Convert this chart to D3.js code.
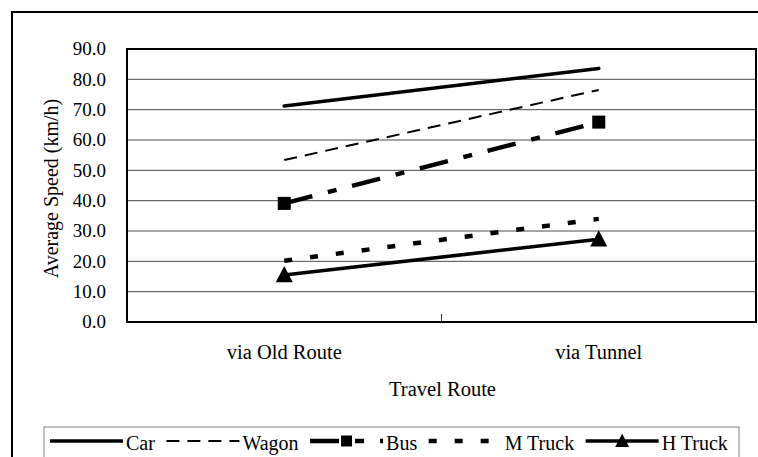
<!DOCTYPE html>
<html>
<head>
<meta charset="utf-8">
<script src="https://cdn.jsdelivr.net/npm/d3@7"></script>
<style>
  html, body { margin: 0; padding: 0; background: #fff; }
  svg { display: block; }
</style>
</head>
<body>
<svg id="chart" width="758" height="457"></svg>
<script>
// Travel routes on the category axis
const routes = ["via Old Route", "via Tunnel"];

// Average speed (km/h) per vehicle class, one value per route
const vehicles = ["Car", "Wagon", "Bus", "M Truck", "H Truck"];
const carSpeed    = [71.2, 83.6];
const wagonSpeed  = [53.4, 76.5];
const busSpeed    = [39.1, 65.9];
const mTruckSpeed = [20.2, 34.0];
const hTruckSpeed = [15.5, 27.3];

// Value-axis ticks
const yTicks = [0, 10, 20, 30, 40, 50, 60, 70, 80, 90];

const seriesValues = [carSpeed, wagonSpeed, busSpeed, mTruckSpeed, hTruckSpeed];

const FONT = "'Liberation Serif', 'Times New Roman', serif";

// Line style for each vehicle class
const styles = {
  "Car":     { width: 3.6, dash: null,          marker: null },
  "Wagon":   { width: 2,   dash: "13,8",        marker: null },
  "Bus":     { width: 4.5, dash: "29,16,9,16",  marker: "square" },
  "M Truck": { width: 4.5, dash: "8,18",        marker: null },
  "H Truck": { width: 3.6, dash: null,          marker: "triangle" }
};

const svg = d3.select("#chart");
const plot = { left: 127, right: 756, top: 49, bottom: 322 };

// Outer chart frame (runs past the right and bottom edges)
svg.append("rect")
  .attr("x", 12).attr("y", 12)
  .attr("width", 800).attr("height", 500)
  .attr("fill", "none").attr("stroke", "#000").attr("stroke-width", 2);

const x = d3.scaleBand().domain(routes).range([plot.left, plot.right]);
const y = d3.scaleLinear().domain([0, 90]).range([plot.bottom, plot.top]);
const cx = r => x(r) + x.bandwidth() / 2;

// Horizontal gridlines
svg.append("g")
  .selectAll("line")
  .data(yTicks.filter(t => t > 0 && t < 90))
  .join("line")
  .attr("x1", plot.left).attr("x2", plot.right)
  .attr("y1", d => y(d)).attr("y2", d => y(d))
  .attr("stroke", "#4a4a4a").attr("stroke-width", 1);

// Y axis labels
const yAxis = d3.axisLeft(y)
  .tickValues(yTicks)
  .tickFormat(d3.format(".1f"))
  .tickSize(0)
  .tickPadding(21);
const gy = svg.append("g").attr("transform", `translate(${plot.left},0)`).call(yAxis);
gy.select(".domain").remove();
gy.selectAll("text")
  .style("font-family", FONT)
  .style("font-size", "19px")
  .attr("fill", "#000")
  .attr("dy", "0.3em");

// X axis labels and the inner tick between categories
const xAxis = d3.axisBottom(x).tickSize(0).tickPadding(0);
const gx = svg.append("g").attr("transform", `translate(0,${plot.bottom})`).call(xAxis);
gx.select(".domain").remove();
gx.selectAll("text")
  .style("font-family", FONT)
  .style("font-size", "20.5px")
  .attr("fill", "#000")
  .attr("dy", null)
  .attr("y", 37);

svg.append("line")
  .attr("x1", x(routes[1])).attr("x2", x(routes[1]))
  .attr("y1", plot.bottom).attr("y2", plot.bottom - 8)
  .attr("stroke", "#333").attr("stroke-width", 1);

// Plot frame
svg.append("rect")
  .attr("x", plot.left).attr("y", plot.top)
  .attr("width", plot.right - plot.left).attr("height", plot.bottom - plot.top)
  .attr("fill", "none").attr("stroke", "#000").attr("stroke-width", 2);

// Axis titles
svg.append("text")
  .attr("x", (plot.left + plot.right) / 2 + 1).attr("y", 396)
  .attr("text-anchor", "middle")
  .style("font-family", FONT).style("font-size", "20.5px")
  .text("Travel Route");

svg.append("text")
  .attr("transform", `translate(58,${(plot.top + plot.bottom) / 2 + 3}) rotate(-90)`)
  .attr("text-anchor", "middle")
  .style("font-family", FONT).style("font-size", "20px")
  .text("Average Speed (km/h)");

// Marker drawing helper
function drawMarker(g, type, px, py, size) {
  if (type === "square") {
    g.append("rect")
      .attr("x", px - size / 2).attr("y", py - size / 2)
      .attr("width", size).attr("height", size)
      .attr("fill", "#000");
  } else if (type === "triangle") {
    const h = size * 0.95;
    g.append("path")
      .attr("d", `M${px},${py - h * 0.55} L${px + size / 2},${py + h * 0.45} L${px - size / 2},${py + h * 0.45} Z`)
      .attr("fill", "#000");
  }
}

// Series lines
const line = d3.line().x((d, i) => cx(routes[i])).y(d => y(d));
const series = svg.append("g");
vehicles.forEach((v, k) => {
  const s = styles[v];
  const vals = seriesValues[k];
  series.append("path")
    .datum(vals)
    .attr("d", line)
    .attr("fill", "none")
    .attr("stroke", "#000")
    .attr("stroke-width", s.width)
    .attr("stroke-dasharray", s.dash)
    .attr("stroke-linecap", s.dash ? "butt" : "round");
  if (s.marker) {
    vals.forEach((d, i) => drawMarker(series, s.marker, cx(routes[i]), y(d), s.marker === "square" ? 13 : 17));
  }
});

// Legend
svg.append("rect")
  .attr("x", 44).attr("y", 427)
  .attr("width", 695).attr("height", 60)
  .attr("fill", "#fff").attr("stroke", "#808080").attr("stroke-width", 1);

const legend = svg.append("g");
let lx = 50;
const ly = 441;
vehicles.forEach(v => {
  const s = styles[v];
  const sampleW = 73;
  legend.append("line")
    .attr("x1", lx).attr("x2", lx + sampleW)
    .attr("y1", ly).attr("y2", ly)
    .attr("stroke", "#000")
    .attr("stroke-width", s.width)
    .attr("stroke-dasharray", s.dash);
  if (s.marker) drawMarker(legend, s.marker, lx + sampleW / 2, ly, s.marker === "square" ? 11 : 14);
  const t = legend.append("text")
    .attr("x", lx + sampleW + 3).attr("y", 450)
    .style("font-family", FONT).style("font-size", "20px")
    .text(v);
  lx += sampleW + 3 + t.node().getComputedTextLength() + 11.5;
});
</script>
</body>
</html>
